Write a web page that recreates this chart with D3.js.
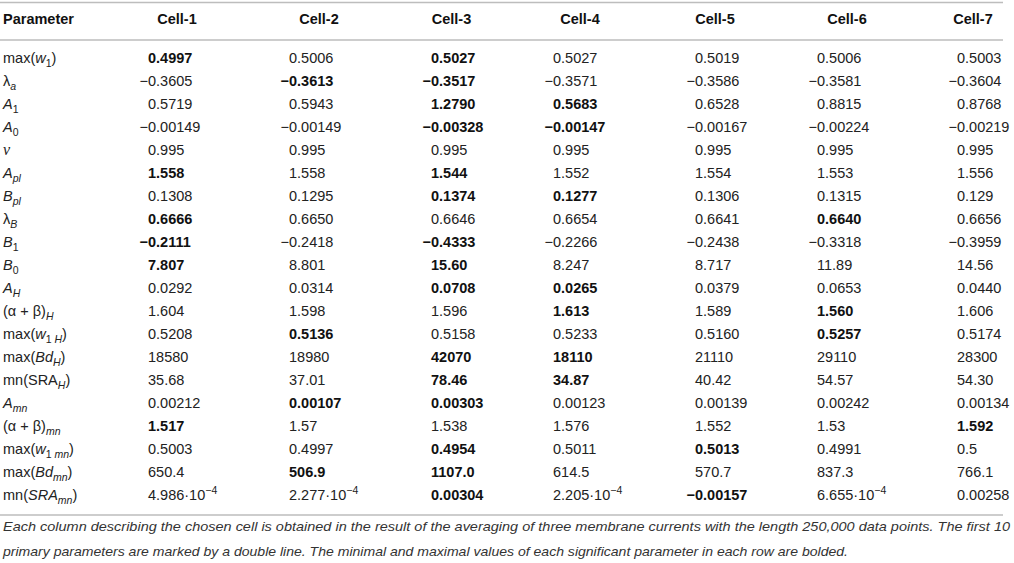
<!DOCTYPE html>
<html lang="en">
<head>
  <meta charset="UTF-8">
  <title>Cell parameters table</title>
  <script src="https://d3js.org/d3.v7.min.js"></script>
  <style>
    body { margin: 0; background: #fff; }
    svg { display: block; font-family: "Liberation Sans", Arial, sans-serif; }
    .hdr { font-weight: bold; font-size: 14.5px; fill: #111; }
    .lbl, .val { font-size: 14.5px; fill: #222; }
    .val.b { font-weight: bold; fill: #111; }
    .caption { font-style: italic; font-size: 13.5px; fill: #333; }
  </style>
</head>
<body>
  <svg id="table" width="1014" height="563"></svg>

  <script>
    // table contents
    const cells = ["Cell-1", "Cell-2", "Cell-3", "Cell-4", "Cell-5", "Cell-6", "Cell-7"];

    const params = [
      "max(<i>w</i><sub>1</sub>)",
      "λ<sub><i>a</i></sub>",
      "<i>A</i><sub>1</sub>",
      "<i>A</i><sub>0</sub>",
      "<g>ν</g>",
      "<i>A</i><sub><i>pl</i></sub>",
      "<i>B</i><sub><i>pl</i></sub>",
      "λ<sub><i>B</i></sub>",
      "<i>B</i><sub>1</sub>",
      "<i>B</i><sub>0</sub>",
      "<i>A</i><sub><i>H</i></sub>",
      "(α + β)<sub><i>H</i></sub>",
      "max(<i>w</i><sub>1 <i>H</i></sub>)",
      "max(<i>Bd</i><sub><i>H</i></sub>)",
      "mn(SRA<sub><i>H</i></sub>)",
      "<i>A</i><sub><i>mn</i></sub>",
      "(α + β)<sub><i>mn</i></sub>",
      "max(<i>w</i><sub>1 <i>mn</i></sub>)",
      "max(<i>Bd</i><sub><i>mn</i></sub>)",
      "mn(<i>SRA</i><sub><i>mn</i></sub>)"
    ];

    const cell1 = ["0.4997", "−0.3605", "0.5719", "−0.00149", "0.995", "1.558", "0.1308", "0.6666", "−0.2111", "7.807",
                   "0.0292", "1.604", "0.5208", "18580", "35.68", "0.00212", "1.517", "0.5003", "650.4", "4.986·10<sup>−4</sup>"];
    const cell2 = ["0.5006", "−0.3613", "0.5943", "−0.00149", "0.995", "1.558", "0.1295", "0.6650", "−0.2418", "8.801",
                   "0.0314", "1.598", "0.5136", "18980", "37.01", "0.00107", "1.57", "0.4997", "506.9", "2.277·10<sup>−4</sup>"];
    const cell3 = ["0.5027", "−0.3517", "1.2790", "−0.00328", "0.995", "1.544", "0.1374", "0.6646", "−0.4333", "15.60",
                   "0.0708", "1.596", "0.5158", "42070", "78.46", "0.00303", "1.538", "0.4954", "1107.0", "0.00304"];
    const cell4 = ["0.5027", "−0.3571", "0.5683", "−0.00147", "0.995", "1.552", "0.1277", "0.6654", "−0.2266", "8.247",
                   "0.0265", "1.613", "0.5233", "18110", "34.87", "0.00123", "1.576", "0.5011", "614.5", "2.205·10<sup>−4</sup>"];
    const cell5 = ["0.5019", "−0.3586", "0.6528", "−0.00167", "0.995", "1.554", "0.1306", "0.6641", "−0.2438", "8.717",
                   "0.0379", "1.589", "0.5160", "21110", "40.42", "0.00139", "1.552", "0.5013", "570.7", "−0.00157"];
    const cell6 = ["0.5006", "−0.3581", "0.8815", "−0.00224", "0.995", "1.553", "0.1315", "0.6640", "−0.3318", "11.89",
                   "0.0653", "1.560", "0.5257", "29110", "54.57", "0.00242", "1.53", "0.4991", "837.3", "6.655·10<sup>−4</sup>"];
    const cell7 = ["0.5003", "−0.3604", "0.8768", "−0.00219", "0.995", "1.556", "0.129", "0.6656", "−0.3959", "14.56",
                   "0.0440", "1.606", "0.5174", "28300", "54.30", "0.00134", "1.592", "0.5", "766.1", "0.00258"];

    // which cells are bolded (min / max) in each row, by column index
    const boldCols = [[0, 2], [1, 2], [2, 3], [2, 3], [], [0, 2], [2, 3], [0, 5], [0, 2], [0, 2],
                      [2, 3], [3, 5], [1, 5], [2, 3], [2, 3], [1, 2], [0, 6], [2, 4], [1, 2], [2, 4]];

    const captionLines = [
      "Each column describing the chosen cell is obtained in the result of the averaging of three membrane currents with the length 250,000 data points. The first 10",
      "primary parameters are marked by a double line. The minimal and maximal values of each significant parameter in each row are bolded."
    ];

    const columns = [cell1, cell2, cell3, cell4, cell5, cell6, cell7];

    const svg = d3.select("#table");

    const y = d3.scaleBand().domain(d3.range(params.length)).range([47, 506]);
    const xVal = d3.scaleOrdinal().domain(cells).range([148, 289, 431, 553, 695, 817, 957]);
    const xHdr = d3.scaleOrdinal().domain(cells).range([177, 319, 451.5, 580, 715, 847, 973]);
    const rowY = i => y(i) + y.bandwidth() / 2 + 5;

    // writes simple markup (<i>, <sub>, <sup>, <g>) into tspans
    function addRich(textSel, markup) {
      const re = /<(\/?)(i|sub|sup|g)>/g;
      const state = { i: 0, sub: 0, sup: 0, g: 0 };
      const chunks = [];
      let last = 0, m;
      while ((m = re.exec(markup))) {
        if (m.index > last) chunks.push({ t: markup.slice(last, m.index), ...state });
        state[m[2]] = m[1] ? 0 : 1;
        last = re.lastIndex;
      }
      if (last < markup.length) chunks.push({ t: markup.slice(last), ...state });

      let shift = 0;
      chunks.forEach(c => {
        const target = c.sub ? 4 : c.sup ? -6 : 0;
        const ts = textSel.append("tspan").text(c.t);
        if (target !== shift) { ts.attr("dy", target - shift); shift = target; }
        if (c.i) ts.attr("font-style", "italic");
        if (c.g) ts.attr("font-family", "Liberation Serif").attr("font-style", "italic").attr("font-size", "16px");
        if (c.sub || c.sup) ts.attr("font-size", "10.5px");
      });
    }

    // rules
    const rule = (yy) => svg.append("line")
      .attr("x1", 0).attr("x2", 1003)
      .attr("y1", yy).attr("y2", yy)
      .attr("stroke", "#bdbdbd").attr("stroke-width", 1.6);
    rule(2.5);
    rule(40);
    rule(515);

    // header
    svg.append("text").attr("class", "hdr").attr("x", 3).attr("y", 24).text("Parameter");
    svg.selectAll(".colhdr")
      .data(cells)
      .enter()
      .append("text")
      .attr("class", "hdr colhdr")
      .attr("x", d => xHdr(d))
      .attr("y", 24)
      .attr("text-anchor", "middle")
      .text(d => d);

    // row labels
    svg.selectAll(".lbl")
      .data(params)
      .enter()
      .append("text")
      .attr("class", "lbl")
      .attr("x", 3)
      .attr("y", (d, i) => rowY(i))
      .each(function(d) { addRich(d3.select(this), d); });

    // values
    const flat = [];
    columns.forEach((col, c) => col.forEach((v, r) => flat.push({ v, c, r, bold: boldCols[r].includes(c) })));

    const vals = svg.selectAll(".val")
      .data(flat)
      .enter()
      .append("g");

    vals.each(function(d) {
      const g = d3.select(this);
      const x0 = xVal(cells[d.c]);
      let body = d.v;
      if (body.startsWith("−")) {
        // minus hangs left of the digit column
        g.append("text")
          .attr("class", "val" + (d.bold ? " b" : ""))
          .attr("x", x0).attr("y", rowY(d.r))
          .attr("text-anchor", "end")
          .text("−");
        body = body.slice(1);
      }
      const t = g.append("text")
        .attr("class", "val" + (d.bold ? " b" : ""))
        .attr("x", x0).attr("y", rowY(d.r));
      addRich(t, body);
    });

    // caption
    svg.selectAll(".caption")
      .data(captionLines)
      .enter()
      .append("text")
      .attr("class", "caption")
      .attr("x", 3)
      .attr("y", (d, i) => 531 + i * 24.5)
      .attr("textLength", (d, i) => i === 0 ? 1007 : 845)
      .attr("lengthAdjust", "spacingAndGlyphs")
      .text(d => d);
  </script>
</body>
</html>
